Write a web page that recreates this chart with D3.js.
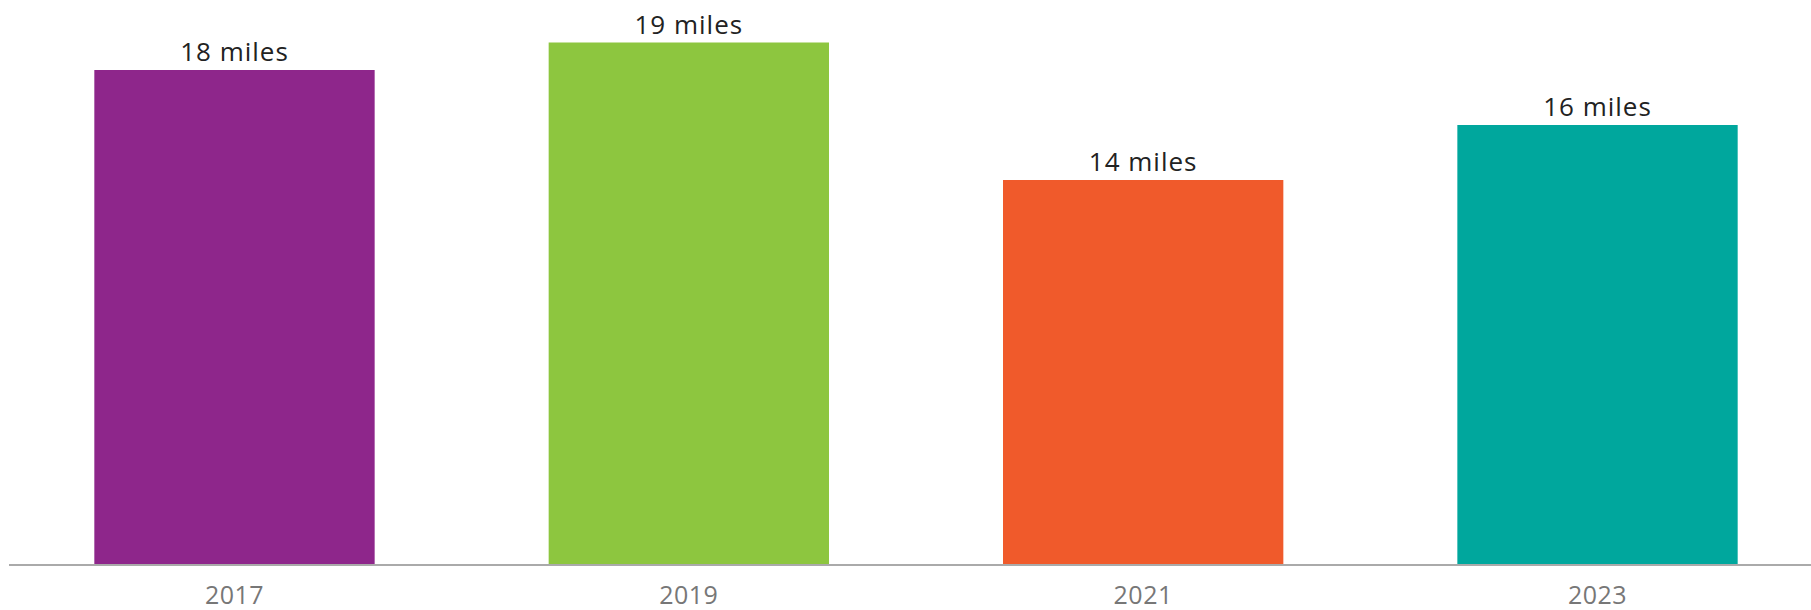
<!DOCTYPE html>
<html>
<head>
<meta charset="utf-8">
<script src="https://cdn.jsdelivr.net/npm/d3@7"></script>
<style>
  body { margin: 0; background: #fff; }
  svg { display: block; }
</style>
</head>
<body>
<svg width="1811" height="610"></svg>
<script>
var years = ['2017', '2019', '2021', '2023'];
var miles = [18, 19, 14, 16];
var barColors = ['#8e268b', '#8dc63f', '#f05a2b', '#00a79d'];

var svg = d3.select('svg');
var baseY = 565;

var x = d3.scaleBand().domain(years).range([8, 1824]).paddingInner(0.383).paddingOuter(0.19);
var y = d3.scaleLinear().domain([0, 20]).range([baseY, 15]);

var bars = svg.append('g');
years.forEach(function(yr, i) {
    bars.append('rect')
        .attr('x', x(yr))
        .attr('y', y(miles[i]))
        .attr('width', x.bandwidth())
        .attr('height', baseY - y(miles[i]))
        .attr('fill', barColors[i]);
    bars.append('text')
        .attr('x', x(yr) + x.bandwidth() / 2)
        .attr('y', y(miles[i]) - 9)
        .attr('text-anchor', 'middle')
        .style('font-family', 'Open Sans, sans-serif')
        .style('font-size', '26px')
        .style('letter-spacing', '1px')
        .attr('fill', '#222')
        .text(miles[i] + ' miles');
});

// axis
var axis = svg.append('g').attr('transform', 'translate(0,' + baseY + ')')
    .call(d3.axisBottom(x).tickSize(0).tickPadding(21));
axis.select('.domain').attr('d', 'M9,0H1811').attr('stroke', '#aaa').attr('stroke-width', 2);
axis.selectAll('text')
    .style('font-family', 'Open Sans, sans-serif')
    .style('font-size', '25px')
    .style('letter-spacing', '0.5px')
    .attr('fill', '#777');
</script>
</body>
</html>
